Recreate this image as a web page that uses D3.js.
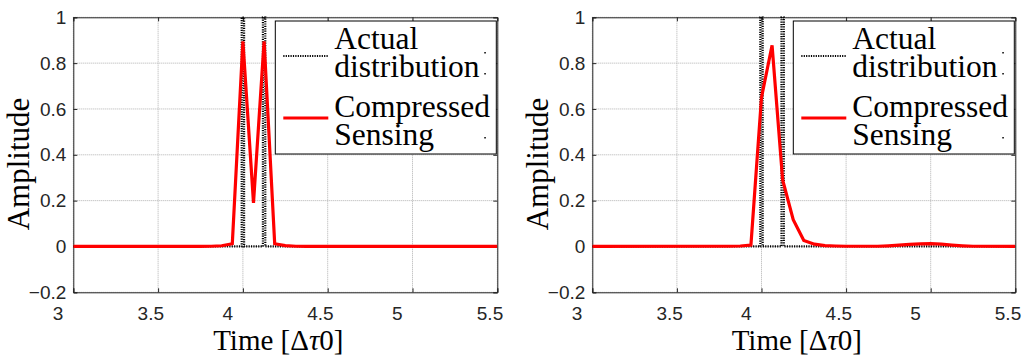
<!DOCTYPE html>
<html>
<head>
<meta charset="utf-8">
<script src="https://cdn.jsdelivr.net/npm/d3@7/dist/d3.min.js"></script>
<style>
  body { margin: 0; background: #fff; }
  svg { display: block; }
  .serif { font-family: 'Liberation Serif', 'Times New Roman', Times, serif; }
  .sans { font-family: 'Liberation Sans', Arial, Helvetica, sans-serif; }
</style>
</head>
<body>
<div id="chart"></div>
<script>
var w = 1026;
var h = 360;

// tick values shared by both panels
var timeTicks = [3, 3.5, 4, 4.5, 5, 5.5];
var ampTicks = [-0.2, 0, 0.2, 0.4, 0.6, 0.8, 1];

// true (sparse) distribution: two narrow spikes
var actualTime = [3.0, 3.993, 3.993, 4.007, 4.007, 4.118, 4.118, 4.132, 4.132, 5.5];
var actualAmp  = [0, 0, 1, 1, 0, 0, 1, 1, 0, 0];

// compressed sensing estimate, left panel
var csTimeA = [3.0, 3.75, 3.8125, 3.875, 3.9375, 4.0, 4.0625, 4.125, 4.1875, 4.25, 4.3125, 4.375, 5.5];
var csAmpA  = [0, 0, 0.001, 0.003, 0.012, 0.895, 0.19, 0.895, 0.012, 0.004, 0.001, 0, 0];

// compressed sensing estimate, right panel
var csTimeB = [3.0, 3.8125, 3.875, 3.9375, 4.0, 4.0625, 4.125, 4.1875, 4.25, 4.3125, 4.375, 4.4375, 4.5,
               4.6875, 4.75, 4.8125, 4.875, 4.9375, 5.0, 5.0625, 5.125, 5.1875, 5.25, 5.5];
var csAmpB  = [0, 0.001, 0.002, 0.006, 0.65, 0.878, 0.29, 0.117, 0.026, 0.01, 0.004, 0.002, 0.001,
               0.001, 0.003, 0.006, 0.009, 0.011, 0.012, 0.01, 0.006, 0.003, 0.001, 0];

var legendLabels = [['Actual', 'distribution'], ['Compressed', 'Sensing']];

var axisColor = '#262626';

var svg = d3.select('#chart')
  .append('svg')
    .attr('width', w)
    .attr('height', h)
    .style('background', '#ffffff');

function zip(xs, ys) {
  return xs.map(function(v, i) { return [v, ys[i]]; });
}

function drawPanel(id, left, right, csTime, csAmp) {
  var top = 17.3, bottom = 292.3;
  var x = d3.scaleLinear().domain([3, 5.5]).range([left, right]);
  var y = d3.scaleLinear().domain([-0.2, 1]).range([bottom, top]);
  var g = svg.append('g').attr('id', id);

  svg.append('clipPath').attr('id', id + '-clip')
    .append('rect')
      .attr('x', left).attr('y', top - 1)
      .attr('width', right - left).attr('height', bottom - top + 1);

  // grid
  g.selectAll('.hgrid')
    .data(ampTicks)
    .enter()
    .append('line')
      .attr('x1', left).attr('x2', right)
      .attr('y1', function(d) { return y(d); })
      .attr('y2', function(d) { return y(d); })
      .style('stroke', '#b0b0b0')
      .style('stroke-width', 1)
      .style('stroke-dasharray', '1,1');
  g.selectAll('.vgrid')
    .data(timeTicks)
    .enter()
    .append('line')
      .attr('y1', top).attr('y2', bottom)
      .attr('x1', function(d) { return x(d); })
      .attr('x2', function(d) { return x(d); })
      .style('stroke', '#b0b0b0')
      .style('stroke-width', 1)
      .style('stroke-dasharray', '1,1');

  // axes, ticks pointing inward
  var yAxis = g.append('g')
    .attr('transform', 'translate(' + left + ',0)')
    .call(d3.axisLeft(y).tickValues(ampTicks).tickSize(-4).tickPadding(7)
      .tickFormat(function(d) { return d < 0 ? '\u22120.2' : d3.format('')(d); }));

  var xAxis = g.append('g')
    .attr('transform', 'translate(0,' + bottom + ')')
    .call(d3.axisBottom(x).tickValues(timeTicks).tickSize(-4).tickPadding(14)
      .tickFormat(d3.format('')));
  xAxis.selectAll('text')
    .attr('x', -21)
    .attr('text-anchor', 'start');

  [yAxis, xAxis].forEach(function(a) {
    a.attr('font-family', null).attr('font-size', null);
    a.selectAll('text')
      .attr('class', 'sans')
      .style('font-size', '19px')
      .style('fill', axisColor);
  });

  g.append('g')
    .attr('transform', 'translate(' + right + ',0)')
    .call(d3.axisRight(y).tickValues(ampTicks).tickSize(-4).tickFormat(''));
  g.append('g')
    .attr('transform', 'translate(0,' + top + ')')
    .call(d3.axisTop(x).tickValues(timeTicks).tickSize(-4).tickFormat(''));

  g.selectAll('.domain').style('stroke', axisColor);
  g.selectAll('.tick line').style('stroke', axisColor);

  // data lines
  var line = d3.line()
    .x(function(d) { return x(d[0]); })
    .y(function(d) { return y(d[1]); });

  var plot = g.append('g').attr('clip-path', 'url(#' + id + '-clip)');
  plot.append('path')
    .datum(zip(actualTime, actualAmp))
    .attr('d', line)
    .style('fill', 'none')
    .style('stroke', '#000')
    .style('stroke-width', 2.2)
    .style('stroke-dasharray', '1.2,1.2');
  plot.append('path')
    .datum(zip(csTime, csAmp))
    .attr('d', line)
    .style('fill', 'none')
    .style('stroke', '#ff0000')
    .style('stroke-width', 3.2)
    .style('stroke-linejoin', 'miter');

  // axis labels
  g.append('text')
    .attr('class', 'serif')
    .attr('transform', 'translate(' + (left - 44) + ',164) rotate(-90)')
    .attr('text-anchor', 'middle')
    .style('font-size', '31px')
    .text('Amplitude');

  var xl = g.append('text')
    .attr('class', 'serif')
    .attr('x', (left + right) / 2 - 7)
    .attr('y', 350)
    .attr('text-anchor', 'middle')
    .style('font-size', '29px');
  xl.append('tspan').text('Time [\u0394');
  xl.append('tspan').style('font-style', 'italic').text('\u03c4');
  xl.append('tspan').text('0]');

  // legend
  var lx = right - 222, ly = 21;
  var leg = g.append('g').attr('transform', 'translate(' + lx + ',' + ly + ')');
  leg.append('rect')
    .attr('width', 221).attr('height', 133)
    .style('fill', '#fff')
    .style('stroke', '#000')
    .style('stroke-width', 1);
  leg.append('line')
    .attr('x1', 8).attr('x2', 53).attr('y1', 35).attr('y2', 35)
    .style('stroke', '#000').style('stroke-width', 2.2).style('stroke-dasharray', '1.2,1.2');
  leg.append('line')
    .attr('x1', 8).attr('x2', 53).attr('y1', 97).attr('y2', 97)
    .style('stroke', '#ff0000').style('stroke-width', 3.2);
  var baselines = [[27.5, 55.5], [96, 124]];
  legendLabels.forEach(function(pair, i) {
    pair.forEach(function(s, j) {
      leg.append('text')
        .attr('class', 'serif')
        .attr('x', 59).attr('y', baselines[i][j])
        .style('font-size', '31.5px')
        .style('fill', '#000')
        .text(s);
    });
  });
  // stray dots at the right of the legend text
  [31, 52, 116].forEach(function(d) {
    leg.append('rect')
      .attr('x', 209).attr('y', d)
      .attr('width', 1.5).attr('height', 1.5)
      .style('fill', '#000');
  });
}

drawPanel('left', 73.3, 497.3, csTimeA, csAmpA);
drawPanel('right', 592.3, 1015.3, csTimeB, csAmpB);
</script>
</body>
</html>
